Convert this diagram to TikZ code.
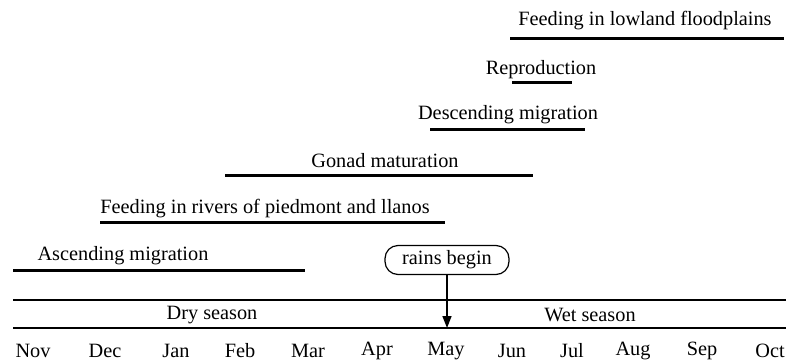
\documentclass[tikz,border=0pt]{standalone}
\usepackage{fontspec}
\setmainfont{Liberation Serif}
\usetikzlibrary{arrows.meta}
\begin{document}
\begin{tikzpicture}[x=1pt,y=-1pt,
  lbl/.style={font=\fontsize{20.3}{24}\selectfont, inner sep=0pt},
  bar/.style={line width=3pt},
  rule/.style={line width=1.3pt},
  mon/.style={font=\fontsize{20.3}{24}\selectfont, inner sep=0pt}]
\useasboundingbox (0,0) rectangle (786,362);
% activity labels and bars
\node[lbl] (t1) at (645,21) {Feeding in lowland floodplains};
\coordinate (b1a) at (510,38); \coordinate (b1b) at (784,38);
\draw[bar] (b1a) -- (b1b);
\node[lbl] (t2) at (541,70) {Reproduction};
\coordinate (b2a) at (512,82); \coordinate (b2b) at (572,82);
\draw[bar] (b2a) -- (b2b);
\node[lbl] (t3) at (508,115) {Descending migration};
\coordinate (b3a) at (430,129); \coordinate (b3b) at (585,129);
\draw[bar] (b3a) -- (b3b);
\node[lbl] (t4) at (385,161) {Gonad maturation};
\coordinate (b4a) at (225,175); \coordinate (b4b) at (533,175);
\draw[bar] (b4a) -- (b4b);
\node[lbl] (t5) at (265,209) {Feeding in rivers of piedmont and llanos};
\coordinate (b5a) at (100,222); \coordinate (b5b) at (445,222);
\draw[bar] (b5a) -- (b5b);
\node[lbl] (t6) at (123,256) {Ascending migration};
\coordinate (b6a) at (13,270); \coordinate (b6b) at (305,270);
\draw[bar] (b6a) -- (b6b);
% rains begin
\node[lbl, draw, line width=1.2pt, rounded corners=13pt, minimum width=124pt, minimum height=29pt] (rb) at (447,260) {rains begin};
% season band
\coordinate (r1a) at (13,300); \coordinate (r1b) at (786,300);
\coordinate (r2a) at (13,328); \coordinate (r2b) at (786,328);
\draw[rule] (r1a) -- (r1b);
\draw[rule] (r2a) -- (r2b);
\coordinate (may) at (447,328);
\draw[line width=1.5pt, -{Triangle[length=12pt,width=9pt]}] (rb.south) -- (may);
\node[lbl] (dry) at (212,315) {Dry season};
\node[lbl] (wet) at (590,315) {Wet season};
% months
\foreach \m/\x in {Nov/33,Dec/105,Jan/176,Feb/240,Mar/308,Apr/377,May/446,Jun/512,Jul/572,Aug/633,Sep/702,Oct/770}
  \node[mon] (m\m) at (\x,351) {\m};
\end{tikzpicture}
\end{document}
